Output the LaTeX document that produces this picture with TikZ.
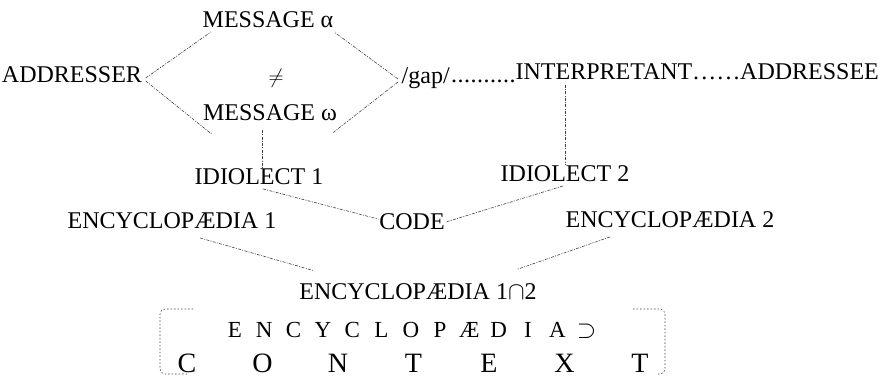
\documentclass[tikz,border=0pt]{standalone}
\usepackage{fontspec}
\setmainfont{Liberation Serif}
\usetikzlibrary{calc}
\tikzset{
  lbl/.style={font=\fontsize{24}{28}\selectfont, inner sep=1.5pt, anchor=base},
  rowA/.style={font=\fontsize{23}{28}\selectfont, inner sep=0pt, anchor=base},
  rowB/.style={font=\fontsize{28}{32}\selectfont, inner sep=0pt, anchor=base},
  conn/.style={draw=black!75, line width=0.6pt, dash pattern=on 3pt off 1.3pt on 1pt off 1.3pt},
  boxline/.style={draw=black!75, line width=0.6pt, dash pattern=on 1.5pt off 2pt, rounded corners=5pt},
}
\newcommand\dA{.\kern0.5pt}
\newcommand\dB{.\kern2.1pt}
\begin{document}
\begin{tikzpicture}[x=1pt,y=-1pt]
\useasboundingbox (0,0) rectangle (881,377);
% top block
\node[lbl] (msga) at (268,28) {MESSAGE α};
\node[lbl] (addr) at (72,83) {ADDRESSER};
\node[lbl, anchor=center, font=\fontsize{20}{24}\selectfont] (neq) at (276,78) {$\neq$};
\node[lbl] (msgw) at (270,121) {MESSAGE ω};
\node[lbl, anchor=base west] (gap) at (400,84) {/gap/};
\node[lbl, anchor=base west, inner sep=0pt] (dots1) at (451,83) {\dA\dA\dA\dA\dA\dA\dA\dA\dA.};
\node[lbl] (interp) at (604,80) {INTERPRETANT};
\node[lbl, anchor=base west, inner sep=0pt] (dots2) at (693,80) {\dB\dB\dB\dB\dB.};
\node[lbl, anchor=base west, inner sep=0pt] (addee) at (740,80) {ADDRESSEE};
% middle
\node[lbl] (idio1) at (259,185) {IDIOLECT 1};
\node[lbl] (idio2) at (565,182) {IDIOLECT 2};
\node[lbl] (enc1) at (172,228) {ENCYCLOPÆDIA 1};
\node[lbl] (code) at (412,229) {CODE};
\node[lbl] (enc2) at (670,227) {ENCYCLOPÆDIA 2};
\node[lbl] (enc12) at (418,299) {ENCYCLOPÆDIA 1$\cap$2};
% spaced rows
\foreach \l [count=\i from 0] in {E,N,C,Y,C,L,O,P,Æ,D,I,A,$\supset$}
  \node[rowA] (r\i) at (235+29.3*\i,337) {\l};
\foreach \l [count=\i from 0] in {C,O,N,T,E,X,T}
  \node[rowB] (c\i) at (187+75.5*\i,372) {\l};
% bracket box
\draw[boxline] (193,309) -- (160,309) -- (160,374) -- (187,374);
\draw[boxline] (633,309) -- (665,309) -- (665,374) -- (658,374);
% connector endpoints
\coordinate (aU) at ($(addr.base east)+(2,-5)$);
\coordinate (aD) at ($(addr.base east)+(2,-2)$);
\coordinate (gU) at ($(gap.base west)+(-2,-5)$);
\coordinate (gD) at ($(gap.base west)+(-2,-2)$);
\draw[conn] (aU) -- ($(msga.south west)+(10,2)$);
\draw[conn] (aD) -- ($(msgw.south west)+(10,11)$);
\draw[conn] (gU) -- ($(msga.south east)+(-1,2)$);
\draw[conn] (gD) -- ($(msgw.south east)+(-6,10)$);
\coordinate (v1) at ($(msgw.south)+(-8,7)$);
\draw[conn] (v1) -- (v1 |- idio1.north);
\draw[conn] ($(interp.south -| idio2.north)+(0,3)$) -- (idio2.north);
\draw[conn] ($(idio1.south)+(4,2)$) -- ($(code.west)+(1,-2)$);
\draw[conn] ($(idio2.south)+(-2,2)$) -- ($(code.east)+(-1,1)$);
\draw[conn] ($(enc1.south)+(28,8)$) -- ($(enc12.north)+(-105,-11)$);
\draw[conn] ($(enc2.south)+(-60,8)$) -- ($(enc12.north)+(99,-12)$);
\end{tikzpicture}
\end{document}
